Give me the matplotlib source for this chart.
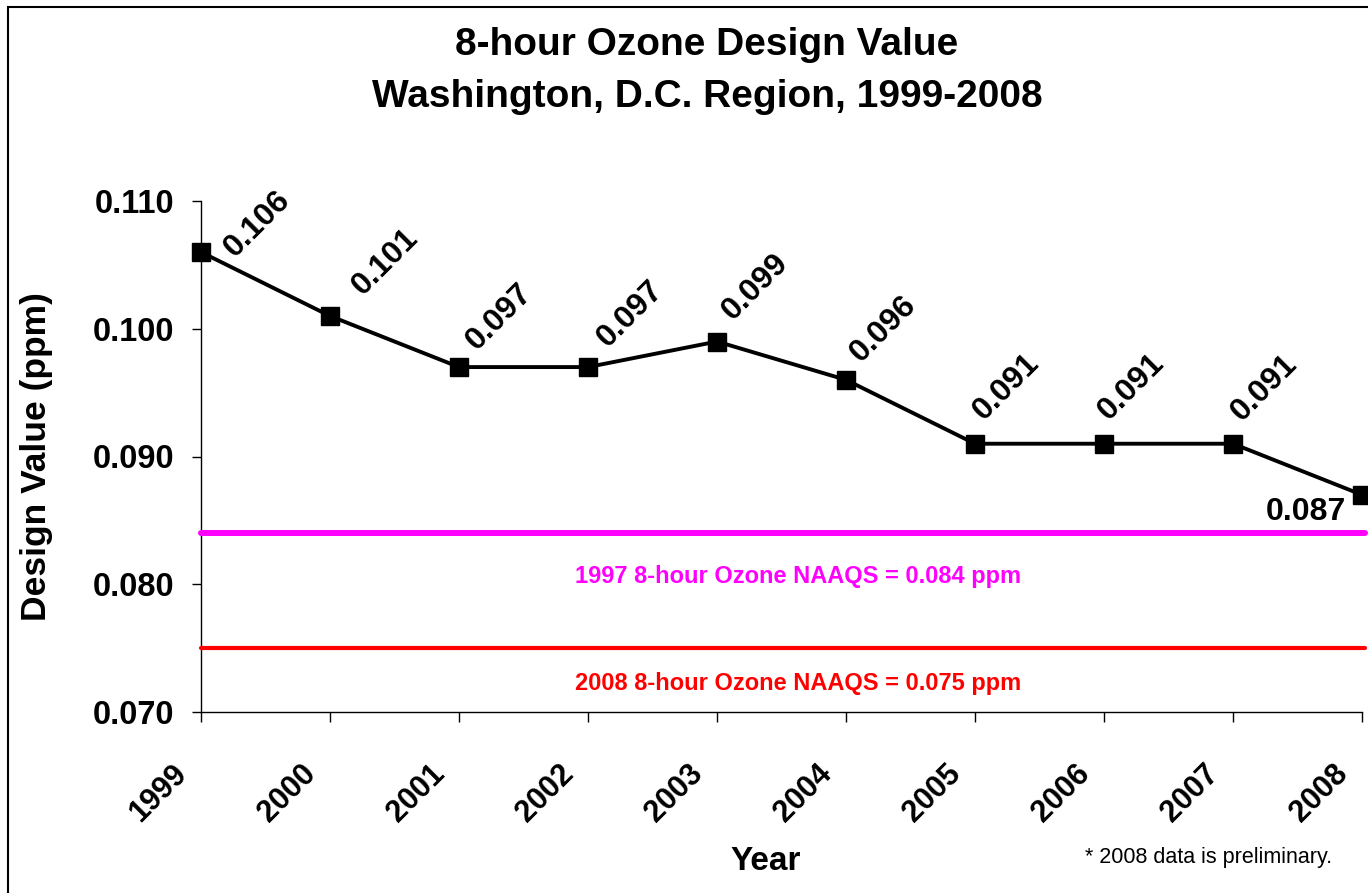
import matplotlib
matplotlib.use("Agg")
import matplotlib.pyplot as plt
from matplotlib.patches import Rectangle
from matplotlib.transforms import ScaledTranslation

plt.rcParams['font.family'] = ['Liberation Sans', 'DejaVu Sans']

years = [1999, 2000, 2001, 2002, 2003, 2004, 2005, 2006, 2007, 2008]
design_values = [0.106, 0.101, 0.097, 0.097, 0.099, 0.096, 0.091, 0.091, 0.091, 0.087]
value_labels = ['0.106', '0.101', '0.097', '0.097', '0.099', '0.096', '0.091', '0.091', '0.091', '0.087']
naaqs_1997 = 0.084
naaqs_2008 = 0.075
yticks = [0.070, 0.080, 0.090, 0.100, 0.110]

# where each value label sits relative to its point (pixels, right / up)
label_offsets = [(56, 28), (55, 54), (40, 50), (42, 53), (38, 55), (37, 51),
                 (31, 57), (27, 57), (31, 56), (-56, -17)]

fig = plt.figure(figsize=(13.68, 8.93), dpi=100)
ax = fig.add_axes([201 / 1368, 1 - 712 / 893, 1161 / 1368, 511 / 893])

# frame around the chart, cut off at right and bottom like the source image
fig.patches.append(Rectangle((8 / 1368, -0.1), 1.2, 1 - 7 / 893 + 0.1,
                             transform=fig.transFigure, fill=False,
                             edgecolor='black', linewidth=1.5))

ax.plot(years, design_values, color='black', linewidth=2.8, marker='s',
        markersize=13.5, zorder=5, clip_on=False)

ax.plot([years[0], years[-1] + 0.02], [naaqs_1997, naaqs_1997], color='#ff00ff',
        linewidth=4.3, solid_capstyle='round', clip_on=False, zorder=3)
ax.plot([years[0], years[-1] + 0.02], [naaqs_2008, naaqs_2008], color='#ff0000',
        linewidth=3, solid_capstyle='round', clip_on=False, zorder=3)

ax.text(2003.63, 0.08057, '1997 8-hour Ozone NAAQS = 0.084 ppm', color='#ff00ff',
        fontsize=17, fontweight='bold', ha='center', va='center')
ax.text(2003.63, 0.07227, '2008 8-hour Ozone NAAQS = 0.075 ppm', color='#ff0000',
        fontsize=17, fontweight='bold', ha='center', va='center')

for i, (yr, val, lab) in enumerate(zip(years, design_values, value_labels)):
    dx, dy = label_offsets[i]
    rot = 45 if i < len(years) - 1 else 0
    ax.annotate(lab, (yr, val), xytext=(dx * 0.72, dy * 0.72), textcoords='offset points',
                rotation=rot, rotation_mode='anchor', ha='center', va='center',
                fontsize=23, fontweight='bold', zorder=6)

ax.set_xlim(years[0], years[-1])
ax.set_ylim(0.070, 0.110)
ax.set_yticks(yticks)
ax.set_yticklabels(['%.3f' % v for v in yticks], fontsize=23.5, fontweight='bold')
ax.set_xticks(years)
ax.tick_params(axis='y', direction='out', length=6.5, width=1, pad=13)
ax.tick_params(axis='x', direction='out', length=7, width=1, pad=0)
ax.set_xticklabels([str(y) for y in years], fontsize=22, fontweight='bold',
                   rotation=45, ha='center', va='center', rotation_mode='anchor')
shift = ScaledTranslation(-43 / 100, -72 / 100, fig.dpi_scale_trans)
for lab in ax.get_xticklabels():
    lab.set_transform(lab.get_transform() + shift)
ax.spines['top'].set_visible(False)
ax.spines['right'].set_visible(False)
for s in ('left', 'bottom'):
    ax.spines[s].set_linewidth(1)

ax.set_ylabel('Design Value (ppm)', fontsize=25.5, fontweight='bold')
ax.yaxis.set_label_coords(-0.1275, 0.5)
fig.text(766 / 1368, 1 - 862 / 893, 'Year', fontsize=24, fontweight='bold',
         ha='center', va='center')
fig.text(1332 / 1368, 1 - 858 / 893, '* 2008 data is preliminary.', fontsize=15.5,
         ha='right', va='center')

fig.text(707 / 1368, 1 - 45 / 893, '8-hour Ozone Design Value', fontsize=28,
         fontweight='bold', ha='center', va='center')
fig.text(707 / 1368, 1 - 97 / 893, 'Washington, D.C. Region, 1999-2008', fontsize=28,
         fontweight='bold', ha='center', va='center')

fig.savefig('out.png', dpi=100)
